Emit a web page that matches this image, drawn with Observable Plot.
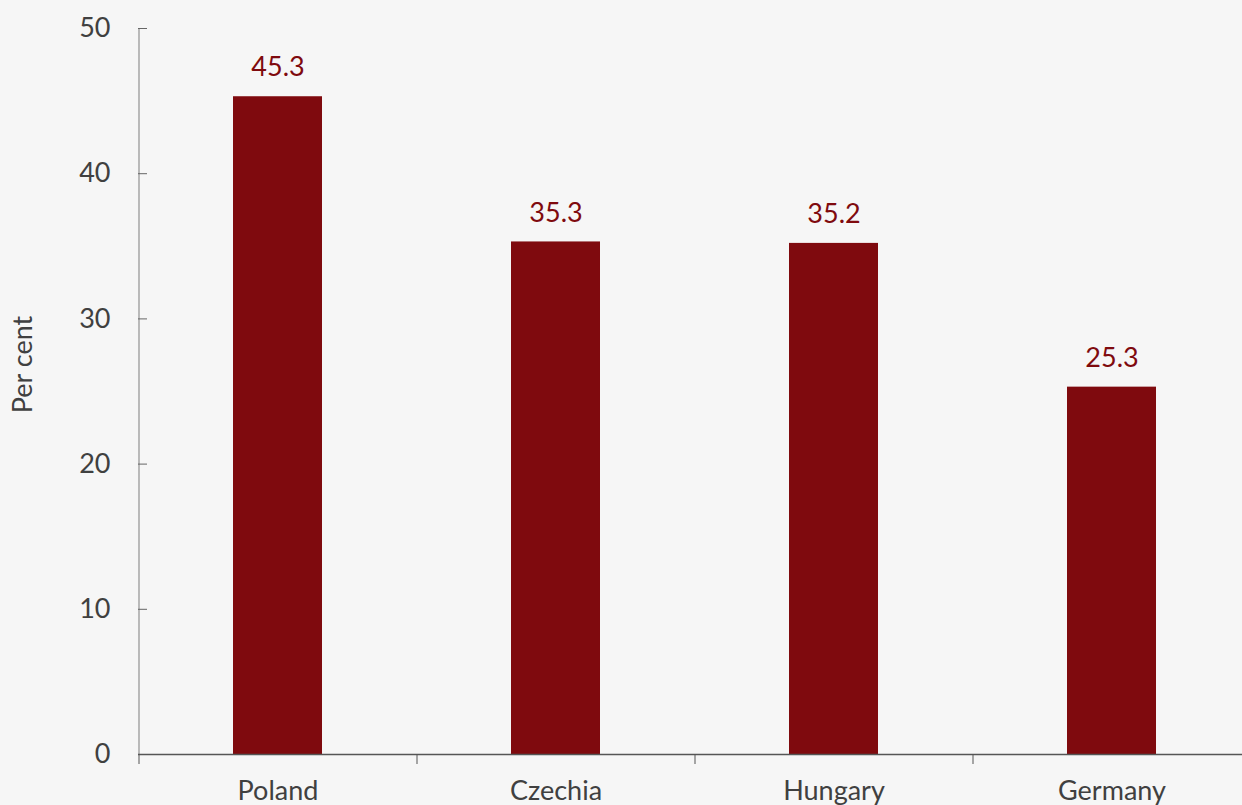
<!DOCTYPE html>
<html>
<head>
<meta charset="utf-8">
<script src="https://cdn.jsdelivr.net/npm/d3@7"></script>
<script src="https://cdn.jsdelivr.net/npm/@observablehq/plot@0.6"></script>
<style>
  html, body { margin: 0; padding: 0; background: #f6f6f6; overflow: hidden; }
  #chart svg { display: block; max-width: none !important; }
</style>
</head>
<body>
<div id="chart"></div>
<script>
const categories = ["Poland", "Czechia", "Hungary", "Germany"];
const values = [45.3, 35.3, 35.2, 25.3];
const yTicks = [0, 10, 20, 30, 40, 50];
const yLabel = "Per cent";

const data = categories.map((c, i) => ({country: c, value: values[i]}));

const W = 1250, H = 805, ML = 138, MT = 28, MB = 51, MR = 0;
const halfBand = (W - ML - MR) / categories.length / 2;
const textColor = "#404040";
const barColor = "#7f0a0e";

const chart = Plot.plot({
  width: W,
  height: H,
  marginLeft: ML,
  marginTop: MT,
  marginBottom: MB,
  marginRight: MR,
  style: {fontFamily: "Lato, 'Noto Sans', sans-serif", background: "#f6f6f6", overflow: "visible", maxWidth: "none"},
  x: {domain: categories, paddingInner: 0.68, paddingOuter: 0.34, label: null},
  y: {domain: [0, 50], label: null},
  marks: [
    Plot.barY(data, {x: "country", y: "value", fill: barColor}),
    Plot.ruleX([categories[0]], {x: d => d, dx: -halfBand, stroke: "#999", strokeWidth: 1.3}),
    Plot.axisY({ticks: yTicks, tickSize: -9, text: null, stroke: "#666"}),
    Plot.axisY({ticks: yTicks, tickSize: 0, tickPadding: 28, fontSize: 27, color: textColor, label: null}),
    Plot.ruleY([0], {stroke: "#555", strokeWidth: 1.3}),
    Plot.axisX({tickSize: 10, text: null, dx: -halfBand, stroke: "#555", label: null}),
    Plot.axisX({tickSize: 0, tickPadding: 26, fontSize: 27, color: textColor, label: null}),
    Plot.text(data, {x: "country", y: "value", text: d => d.value.toFixed(1), dy: -29, fill: barColor, fontSize: 27}),
    Plot.text([yLabel], {text: d => d, frameAnchor: "left", textAnchor: "middle", rotate: -90, dx: -115, dy: -27, fontSize: 27, fill: textColor})
  ]
});
document.getElementById("chart").appendChild(chart);
</script>
</body>
</html>
